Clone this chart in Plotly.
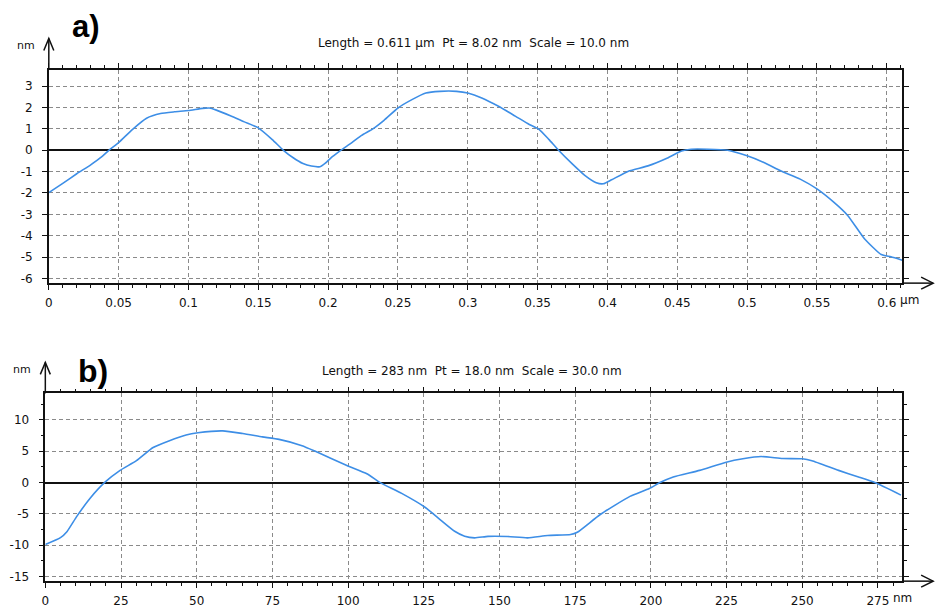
import plotly.graph_objects as go

# ---------------- data: panel a (x in µm, height in nm) ----------------
a_x = [0.000, 0.010, 0.020, 0.030, 0.038, 0.043, 0.050, 0.060, 0.070, 0.080,
       0.090, 0.100, 0.110, 0.115, 0.120, 0.130, 0.140, 0.150, 0.160, 0.168,
       0.175, 0.182, 0.188, 0.194, 0.198, 0.203, 0.209, 0.217, 0.224, 0.232,
       0.240, 0.250, 0.260, 0.270, 0.280, 0.292, 0.300, 0.310, 0.322, 0.334,
       0.344, 0.351, 0.358, 0.365, 0.375, 0.384, 0.392, 0.397, 0.403, 0.415,
       0.429, 0.443, 0.453, 0.460, 0.472, 0.486, 0.500, 0.512, 0.524, 0.538,
       0.550, 0.562, 0.572, 0.584, 0.596, 0.603, 0.611]
a_y = [-1.98, -1.55, -1.10, -0.68, -0.30, 0.00, 0.36, 0.98, 1.50, 1.72,
       1.80, 1.86, 1.96, 1.98, 1.88, 1.62, 1.33, 1.05, 0.50, 0.00,
       -0.35, -0.62, -0.74, -0.77, -0.60, -0.30, 0.00, 0.36, 0.70, 1.00,
       1.40, 1.98, 2.37, 2.68, 2.76, 2.76, 2.68, 2.45, 2.06, 1.60,
       1.21, 0.98, 0.51, 0.00, -0.65, -1.19, -1.52, -1.57, -1.38, -0.98,
       -0.73, -0.36, -0.03, 0.05, 0.05, 0.00, -0.26, -0.57, -0.96, -1.35,
       -1.81, -2.43, -3.05, -4.14, -4.88, -4.99, -5.15]

# ---------------- data: panel b (x in nm, height in nm) ----------------
b_x = [0, 5, 7.2, 10.4, 14.8, 19.8, 24.7, 30.1, 35.6, 41,
       46.5, 50.4, 58.6, 65.2, 71.7, 77.2, 84.8, 89.2, 99.6, 106.2,
       110.6, 117.7, 125.4, 129.8, 135.2, 138.5, 141.8, 146.2, 152.7, 159.3,
       165.9, 173.5, 175.7, 183.3, 193.1, 199.5, 203, 207.4, 216.1, 224.9,
       230.4, 236.4, 243.5, 250, 253.2, 262, 268.6, 274, 282.6]
b_y = [-9.9, -8.8, -7.8, -5.4, -2.5, 0.1, 1.95, 3.5, 5.6, 6.7,
       7.6, 7.95, 8.26, 7.84, 7.3, 6.9, 5.9, 5.0, 2.74, 1.42,
       0.0, -1.73, -3.94, -5.67, -7.78, -8.57, -8.83, -8.6, -8.62, -8.83,
       -8.45, -8.3, -7.94, -5.1, -2.2, -0.95, 0.0, 0.9, 1.95, 3.26,
       3.8, 4.16, 3.85, 3.8, 3.5, 1.95, 0.9, 0.0, -2.0]

# ---------------- tick labels / texts ----------------
a_xtickvals = [0, 0.05, 0.1, 0.15, 0.2, 0.25, 0.3, 0.35, 0.4, 0.45, 0.5, 0.55, 0.6]
a_xticktext = ["0", "0.05", "0.1", "0.15", "0.2", "0.25", "0.3", "0.35", "0.4",
               "0.45", "0.5", "0.55", "0.6"]
a_ytickvals = [-6, -5, -4, -3, -2, -1, 0, 1, 2, 3]
a_yticktext = ["-6", "-5", "-4", "-3", "-2", "-1", "0", "1", "2", "3"]
b_xtickvals = [0, 25, 50, 75, 100, 125, 150, 175, 200, 225, 250, 275]
b_xticktext = ["0", "25", "50", "75", "100", "125", "150", "175", "200", "225", "250", "275"]
b_ytickvals = [-15, -10, -5, 0, 5, 10]
b_yticktext = ["-15", "-10", "-5", "0", "5", "10"]

a_title = "Length = 0.611 µm  Pt = 8.02 nm  Scale = 10.0 nm"
b_title = "Length = 283 nm  Pt = 18.0 nm  Scale = 30.0 nm"
a_xunit, b_xunit, y_unit = "µm", "nm", "nm"

# ---------------- styling ----------------
W, H = 935, 608
BLUE = "#3d8ee6"
INK = "#111111"
GRID = "#8a8a8a"
FONT = "DejaVu Sans"
TICKFONT = dict(family=FONT, size=12, color=INK)


def px_x(p):
    return p / W


def px_y(p):
    return 1 - p / H


def xaxis(domain, anchor, rng, vals, text, minor_dtick):
    return dict(
        domain=domain, anchor=anchor, range=rng,
        tickmode="array", tickvals=vals, ticktext=text,
        showline=True, linecolor=INK, linewidth=1.5, mirror="ticks",
        ticks="outside", ticklen=5, tickwidth=1.3, tickcolor=INK,
        showgrid=True, gridcolor=GRID, gridwidth=1, griddash="4px,3px",
        zeroline=False,
        minor=dict(tickmode="linear", tick0=0, dtick=minor_dtick, ticks="outside",
                   ticklen=3, tickwidth=1.2, tickcolor=INK, showgrid=False),
        tickfont=TICKFONT, ticklabelstandoff=3, fixedrange=True,
    )


def yaxis(domain, anchor, rng, vals, text, minor_dtick=None):
    d = dict(
        domain=domain, anchor=anchor, range=rng,
        tickmode="array", tickvals=vals, ticktext=text,
        showline=True, linecolor=INK, linewidth=1.5, mirror="ticks",
        ticks="outside", ticklen=5, tickwidth=1.3, tickcolor=INK,
        showgrid=True, gridcolor=GRID, gridwidth=1, griddash="4px,3px",
        zeroline=True, zerolinecolor=INK, zerolinewidth=1.5,
        tickfont=TICKFONT, ticklabelstandoff=7, fixedrange=True,
    )
    if minor_dtick:
        d["minor"] = dict(tickmode="linear", tick0=0, dtick=minor_dtick, ticks="outside",
                          ticklen=3, tickwidth=1.2, tickcolor=INK, showgrid=False)
    return d


fig = go.Figure()
fig.add_trace(go.Scatter(x=a_x, y=a_y, mode="lines",
                         line=dict(color=BLUE, width=1.6, shape="spline", smoothing=0.5),
                         xaxis="x", yaxis="y", showlegend=False, hoverinfo="skip"))
fig.add_trace(go.Scatter(x=b_x, y=b_y, mode="lines",
                         line=dict(color=BLUE, width=1.6, shape="spline", smoothing=0.5),
                         xaxis="x2", yaxis="y2", showlegend=False, hoverinfo="skip"))

fig.update_layout(
    width=W, height=H, margin=dict(l=0, r=0, t=0, b=0),
    paper_bgcolor="white", plot_bgcolor="white", showlegend=False,
    xaxis=xaxis([px_x(45), px_x(902)], "y", [0, 0.611], a_xtickvals, a_xticktext, 0.01),
    yaxis=yaxis([px_y(285), px_y(70)], "x", [-6.22, 3.78], a_ytickvals, a_yticktext),
    xaxis2=xaxis([px_x(41.5), px_x(902)], "y2", [0, 283], b_xtickvals, b_xticktext, 5),
    yaxis2=yaxis([px_y(585), px_y(396)], "x2", [-15.75, 14.25], b_ytickvals, b_yticktext, 2.5),
)

shapes = []
annotations = []
for xs, ys in (("x", "y"), ("x2", "y2")):
    xd, yd = xs + " domain", ys + " domain"
    line = dict(color=INK, width=1.5)
    # y-axis extension with open arrow head
    shapes.append(dict(type="line", xref=xd, yref=yd, x0=0, x1=0,
                       ysizemode="pixel", yanchor=1, y0=0, y1=31, line=line))
    shapes.append(dict(type="path", xref=xd, yref=yd, xsizemode="pixel", xanchor=0,
                       ysizemode="pixel", yanchor=1, path="M-5,19 L0,31 L5,19", line=line))
    # x-axis extension with open arrow head
    shapes.append(dict(type="line", xref=xd, yref=yd, y0=0, y1=0,
                       xsizemode="pixel", xanchor=1, x0=0, x1=31, line=line))
    shapes.append(dict(type="path", xref=xd, yref=yd, xsizemode="pixel", xanchor=1,
                       ysizemode="pixel", yanchor=0, path="M19,6 L31,0 L19,-6", line=line))
    # y unit
    annotations.append(dict(xref=xd, yref=yd, x=0, y=1, text=y_unit, showarrow=False,
                            xanchor="right", yanchor="middle", xshift=-12, yshift=24,
                            font=dict(family=FONT, size=11, color=INK)))

# x units next to the last tick labels
annotations.append(dict(xref="x", yref="y domain", x=a_xtickvals[-1], y=0, text=a_xunit,
                        showarrow=False, xanchor="left", yanchor="middle", xshift=11, yshift=-17,
                        font=TICKFONT))
annotations.append(dict(xref="x2", yref="y2 domain", x=b_xtickvals[-1], y=0, text=b_xunit,
                        showarrow=False, xanchor="left", yanchor="middle", xshift=13, yshift=-17,
                        font=TICKFONT))

# panel titles
annotations.append(dict(xref="paper", yref="paper", x=px_x(472), y=px_y(43), text=a_title,
                        showarrow=False, xanchor="center", yanchor="middle",
                        font=dict(family=FONT, size=12, color=INK)))
annotations.append(dict(xref="paper", yref="paper", x=px_x(470), y=px_y(373), text=b_title,
                        showarrow=False, xanchor="center", yanchor="middle",
                        font=dict(family=FONT, size=12, color=INK)))

# panel letters
annotations.append(dict(xref="paper", yref="paper", x=px_x(66), y=px_y(27), text="<b>a)</b>",
                        showarrow=False, xanchor="left", yanchor="middle",
                        font=dict(family="Liberation Sans", size=31, color="black")))
annotations.append(dict(xref="paper", yref="paper", x=px_x(72), y=px_y(373), text="<b>b)</b>",
                        showarrow=False, xanchor="left", yanchor="middle",
                        font=dict(family="Liberation Sans", size=32, color="black")))

fig.update_layout(shapes=shapes, annotations=annotations)
fig.write_html("out.html")
